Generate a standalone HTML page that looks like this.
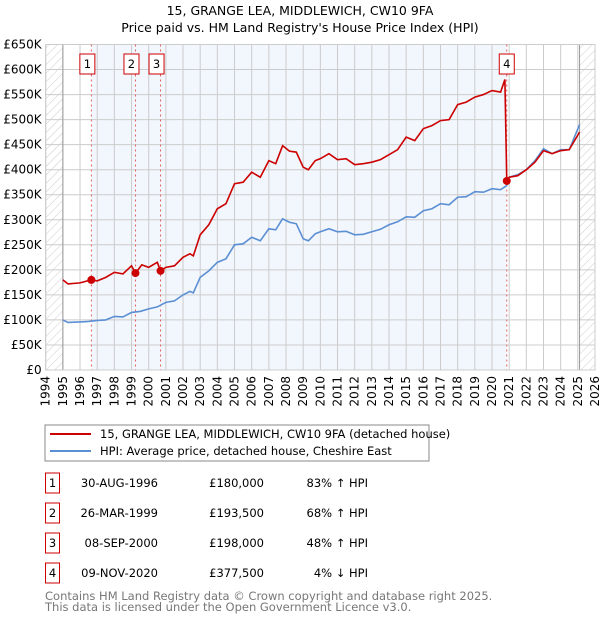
<!DOCTYPE html>
<html><head><meta charset="utf-8"><style>
body{margin:0;background:#fff;font-family:"Liberation Sans","DejaVu Sans",sans-serif;}
svg text{font-family:"DejaVu Sans","Liberation Sans",sans-serif;}
</style></head><body>
<svg id="c" width="600" height="620" xmlns="http://www.w3.org/2000/svg">
<defs><pattern id="h" width="6" height="6" patternUnits="userSpaceOnUse" patternTransform="rotate(45)"><line x1="0" y1="0" x2="0" y2="6" stroke="#ccc" stroke-width="1"/></pattern></defs>
<text x="300" y="15" text-anchor="middle" font-size="12.5" fill="#000">15, GRANGE LEA, MIDDLEWICH, CW10 9FA</text>
<text x="300" y="32" text-anchor="middle" font-size="12.5" fill="#000">Price paid vs. HM Land Registry's House Price Index (HPI)</text>
<g id="plot"></g>
<g>
<rect x="45" y="425" width="384" height="36" fill="#fff" stroke="#888"/>
<line x1="50" y1="434" x2="91" y2="434" stroke="#cc0000" stroke-width="2"/>
<text x="100" y="438" font-size="11.5">15, GRANGE LEA, MIDDLEWICH, CW10 9FA (detached house)</text>
<line x1="50" y1="451" x2="91" y2="451" stroke="#5b8fd4" stroke-width="2"/>
<text x="100" y="455" font-size="11.5">HPI: Average price, detached house, Cheshire East</text>
</g>
<g id="tbl" font-size="11.5"></g>
<text x="45" y="600" font-size="11.5" fill="#777">Contains HM Land Registry data © Crown copyright and database right 2025.</text>
<text x="45" y="611" font-size="11.5" fill="#777">This data is licensed under the Open Government Licence v3.0.</text>
</svg>
<script>
const hpiYears=[1995,1995.3,1996,1996.5,1997,1997.5,1998,1998.5,1999,1999.5,2000,2000.5,2001,2001.5,2002,2002.4,2002.6,2003,2003.5,2004,2004.5,2005,2005.5,2006,2006.5,2007,2007.4,2007.8,2008.2,2008.6,2009,2009.3,2009.7,2010,2010.5,2011,2011.5,2012,2012.5,2013,2013.5,2014,2014.5,2015,2015.5,2016,2016.5,2017,2017.5,2018,2018.5,2019,2019.5,2020,2020.5,2020.85,2021,2021.5,2022,2022.5,2023,2023.5,2024,2024.5,2025.1];
const hpiValues=[100000,95000,96000,97000,99000,100000,107000,106000,115000,117000,122000,126000,135000,138000,150000,157000,154000,185000,198000,215000,222000,250000,252000,265000,258000,282000,280000,302000,295000,292000,262000,258000,272000,276000,282000,276000,277000,270000,271000,276000,281000,290000,296000,306000,305000,318000,322000,332000,330000,345000,346000,356000,355000,362000,360000,368000,385000,390000,400000,418000,442000,432000,440000,440000,490000];
const paidYears=[1995,1995.3,1996,1996.66,1997,1997.5,1998,1998.5,1999,1999.23,1999.6,2000,2000.5,2000.69,2001,2001.5,2002,2002.4,2002.6,2003,2003.5,2004,2004.5,2005,2005.5,2006,2006.5,2007,2007.4,2007.8,2008.2,2008.6,2009,2009.3,2009.7,2010,2010.5,2011,2011.5,2012,2012.5,2013,2013.5,2014,2014.5,2015,2015.5,2016,2016.5,2017,2017.5,2018,2018.5,2019,2019.5,2020,2020.5,2020.75,2020.86,2021,2021.5,2022,2022.5,2023,2023.5,2024,2024.5,2025.1];
const paidValues=[180000,172000,174000,180000,178000,185000,195000,192000,208000,193500,210000,205000,215000,198000,205000,208000,225000,232000,228000,270000,290000,322000,332000,372000,375000,395000,385000,418000,412000,448000,437000,435000,405000,400000,418000,422000,432000,420000,422000,410000,412000,415000,420000,430000,440000,465000,458000,482000,488000,498000,500000,530000,535000,545000,550000,558000,555000,580000,377500,385000,388000,400000,415000,438000,432000,438000,440000,475000];
const saleYears=[1996.66,1999.23,2000.69,2020.86];
const salePrices=[180000,193500,198000,377500];
const saleDates=["30-AUG-1996","26-MAR-1999","08-SEP-2000","09-NOV-2020"];
const saleLabels=["£180,000","£193,500","£198,000","£377,500"];
const saleDiffs=["83% ↑ HPI","68% ↑ HPI","48% ↑ HPI","4% ↓ HPI"];
const yTicks=[0,50000,100000,150000,200000,250000,300000,350000,400000,450000,500000,550000,600000,650000];
const yTickLabels=["£0","£50K","£100K","£150K","£200K","£250K","£300K","£350K","£400K","£450K","£500K","£550K","£600K","£650K"];
const xTicks=[1994,1995,1996,1997,1998,1999,2000,2001,2002,2003,2004,2005,2006,2007,2008,2009,2010,2011,2012,2013,2014,2015,2016,2017,2018,2019,2020,2021,2022,2023,2024,2025,2026];

const L=45.7,R=595,T=44.5,B=370;
const X=y=>L+(y-1994)*(R-L)/32;
const Y=v=>B-v*(B-T)/650000;
const NS="http://www.w3.org/2000/svg";
const g=document.getElementById('plot');
function mk(tag,attrs,parent){const e=document.createElementNS(NS,tag);for(const k in attrs)e.setAttribute(k,attrs[k]);(parent||g).appendChild(e);return e;}
let e;
e=mk('rect',{x:L,y:T,width:R-L,height:B-T,fill:'#fff'});


e=mk('rect',{x:X(saleYears[0]),y:T,width:X(saleYears[3])-X(saleYears[0]),height:B-T,fill:'#f2f6fd'});


e=mk('rect',{x:L,y:T,width:X(1995)-L,height:B-T,fill:'url(#h)'});


e=mk('rect',{x:X(2025.1),y:T,width:R-X(2025.1),height:B-T,fill:'url(#h)'});


yTicks.forEach((v,i)=>{
 e=mk('line',{x1:L,x2:R,y1:Y(v),y2:Y(v),stroke:'#ccc','stroke-width':1});
 
 
 e=mk('text',{x:L-4,y:Y(v)+4,'text-anchor':'end','font-size':12,fill:'#000'});e.textContent=yTickLabels[i];
 
 
});
xTicks.forEach(yr=>{
 e=mk('line',{x1:X(yr),x2:X(yr),y1:T,y2:B,stroke:'#ccc','stroke-width':1});
 
 
 e=mk('text',{x:0,y:0,'text-anchor':'end','font-size':12,fill:'#000',transform:`translate(${X(yr)+4},${B+6}) rotate(-90)`});e.textContent=yr;
 
 
});
e=mk('line',{x1:X(1995),x2:X(1995),y1:T,y2:B,stroke:'#999'});


e=mk('line',{x1:X(2025.1),x2:X(2025.1),y1:T,y2:B,stroke:'#999'});


e=mk('rect',{x:L,y:T,width:R-L,height:B-T,fill:'none',stroke:'#ccc'});


saleYears.forEach((yr,i)=>{
 e=mk('line',{x1:X(yr),x2:X(yr),y1:T,y2:B,stroke:'#e06060','stroke-dasharray':'2,3'});
 
 
});
e=mk('polyline',{points:hpiYears.map((y,i)=>X(y)+','+Y(hpiValues[i])).join(' '),fill:'none',stroke:'#5b8fd4','stroke-width':1.6});


e=mk('polyline',{points:paidYears.map((y,i)=>X(y)+','+Y(paidValues[i])).join(' '),fill:'none',stroke:'#cc0000','stroke-width':1.6});


saleYears.forEach((yr,i)=>{
 e=mk('circle',{cx:X(yr),cy:Y(salePrices[i]),r:4,fill:'#cc0000'});
 
 
 const cx=X(yr)-(i==3?0:4);
 e=mk('rect',{x:cx-7.5,y:54,width:15,height:20,fill:'#fff',stroke:'#cc0000'});
 
 
 e=mk('text',{x:cx,y:68,'text-anchor':'middle','font-size':11.5,fill:'#000'});e.textContent=i+1;
 
 
});
const t=document.getElementById('tbl');
saleYears.forEach((yr,i)=>{
 const cy=483+i*30;
 e=mk('rect',{x:45.5,y:cy-10,width:14,height:20,fill:'#fff',stroke:'#cc0000'},t);
 
 
 e=mk('text',{x:52.5,y:cy+4,'text-anchor':'middle'},t);e.textContent=i+1;
 
 
 e=mk('text',{x:158,y:cy+4,'text-anchor':'end'},t);e.textContent=saleDates[i];
 
 
 e=mk('text',{x:264,y:cy+4,'text-anchor':'end'},t);e.textContent=saleLabels[i];
 
 
 e=mk('text',{x:368,y:cy+4,'text-anchor':'end'},t);e.textContent=saleDiffs[i];
 
 
});
</script>
</body></html>
